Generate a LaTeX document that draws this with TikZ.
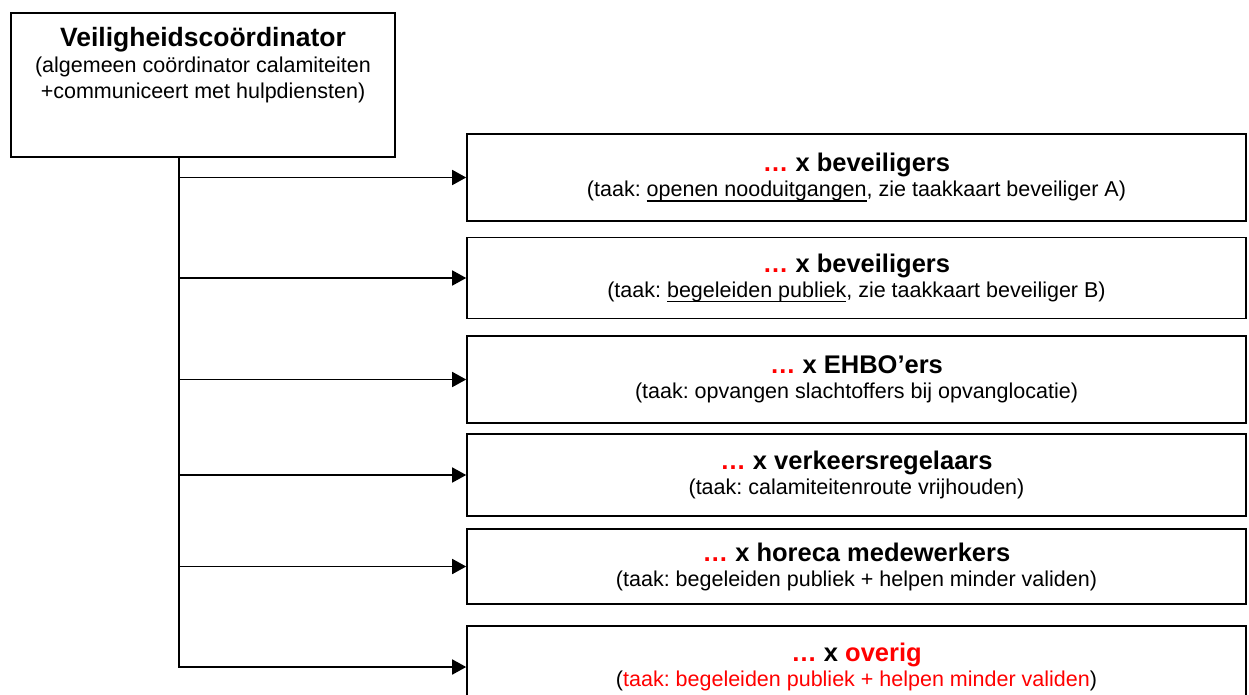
\documentclass[tikz,border=0pt]{standalone}
\usepackage{fontspec}
\setmainfont{Liberation Sans}
\usepackage{xcolor}
\usetikzlibrary{arrows.meta}
\newcommand{\undl}[1]{\setbox0\hbox{#1}\rlap{\rule[-5pt]{\wd0}{1.5pt}}\box0}
\frenchspacing

\begin{document}
\begin{tikzpicture}[x=1pt,y=-1pt,line width=1.6pt,
  box/.style={rectangle,draw,inner sep=0pt},
  taskbox/.style={box,minimum width=779pt,align=center,font=\fontsize{21.5}{25}\selectfont},
  link/.style={-{Triangle[length=14pt,width=15pt]}}]
\useasboundingbox (0,0) rectangle (1249,695);

\node [box,minimum width=384pt,minimum height=144pt] (coord) at (203,85) {};
\node [align=center,anchor=north,font=\fontsize{21.5}{26}\selectfont] (coordtxt) at ([yshift=-11pt]coord.north)
  {{\fontsize{26.5}{28}\selectfont\bfseries Veiligheidscoördinator}\\(algemeen coördinator calamiteiten\\+communiceert met hulpdiensten)};
\coordinate (spine) at ([xshift=-24pt]coord.south);

\node [taskbox,minimum height=87pt] (beveilA) at (856.5,177.5)
  {{\fontsize{25.5}{28}\selectfont\bfseries\textcolor{red}{…} x beveiligers}\\(taak: \undl{openen nooduitgangen}, zie taakkaart beveiliger A)};
\node [taskbox,minimum height=81pt] (beveilB) at (856.5,278)
  {{\fontsize{25.5}{28}\selectfont\bfseries\textcolor{red}{…} x beveiligers}\\(taak: \undl{begeleiden publiek}, zie taakkaart beveiliger B)};
\node [taskbox,minimum height=87pt] (ehbo) at (856.5,379.5)
  {{\fontsize{25.5}{28}\selectfont\bfseries\textcolor{red}{…} x EHBO’ers}\\(taak: opvangen slachtoffers bij opvanglocatie)};
\node [taskbox,minimum height=82pt] (verkeer) at (856.5,475)
  {{\fontsize{25.5}{28}\selectfont\bfseries\textcolor{red}{…} x verkeersregelaars}\\(taak: calamiteitenroute vrijhouden)};
\node [taskbox,minimum height=75pt] (horeca) at (856.5,566.5)
  {{\fontsize{25.5}{28}\selectfont\bfseries\textcolor{red}{…} x horeca medewerkers}\\(taak: begeleiden publiek + helpen minder validen)};
\node [taskbox,minimum height=82pt] (overig) at (856.5,667)
  {{\fontsize{25.5}{28}\selectfont\bfseries\textcolor{red}{…} x \textcolor{red}{overig}}\\(\textcolor{red}{taak: begeleiden publiek + helpen minder validen})};

\draw [link] (spine) |- (beveilA.west);
\draw [link] (spine) |- (beveilB.west);
\draw [link] (spine) |- (ehbo.west);
\draw [link] (spine) |- (verkeer.west);
\draw [link] (spine) |- (horeca.west);
\draw [link] (spine) |- (overig.west);
\end{tikzpicture}
\end{document}
